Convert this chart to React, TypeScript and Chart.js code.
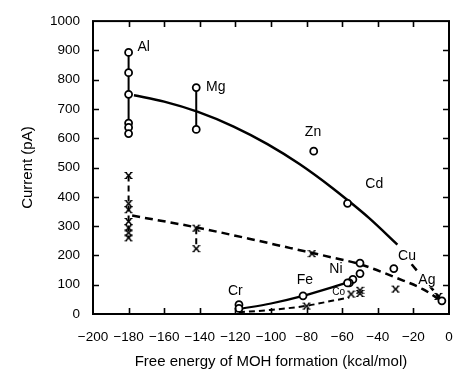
import React, { useEffect, useRef } from "react";
import { Chart, registerables } from "chart.js";

Chart.register(...registerables);

// Axis ticks
const xTickLabels = ["\u2212200", "\u2212180", "\u2212160", "\u2212140", "\u2212120", "\u2212100", "\u221280", "\u221260", "\u221240", "\u221220", "0"];
const xTickValues = [-200, -180, -160, -140, -120, -100, -80, -60, -40, -20, 0];
const yTickLabels = ["0", "100", "200", "300", "400", "500", "600", "700", "800", "900", "1000"];
const yTickValues = [0, 100, 200, 300, 400, 500, 600, 700, 800, 900, 1000];

// Al column (x = -180)
const alEnergy = -180;
const alCircleCurrent = [893, 824, 750, 652, 637, 616];
const alCrossCurrent = [473, 377, 356, 316, 294, 277, 260];

// Mg column (x = -142)
const mgEnergy = -142;
const mgCircleCurrent = [773, 630];
const mgCrossCurrent = [293, 223];

// Other circles (Zn, Cd, Cu, Ag, Ni/Co cluster, Fe, Cr)
const circleEnergy = [-76, -57, -31, -4, -50, -50, -54, -56, -57, -82, -118, -118];
const circleCurrent = [556, 378, 155, 45, 174, 138, 118, 106, 106, 62, 32, 19];

// Other crosses (Zn, Fe, Co cluster, Cu, Ag)
const crossEnergy = [-77, -80, -55, -50, -50, -30, -6];
const crossCurrent = [206, 27, 68, 81, 70, 85, 60];

// Fitted curves
const upperCurveX = [-177, -160, -141, -121, -102, -84, -65, -57, -45, -29];
const upperCurveY = [747, 725, 690, 640, 580, 512, 428, 389, 328, 237];
const upperExtX = [-21, -4];
const upperExtY = [170, 46];
const middleCurveX = [-178, -143, -113, -89, -65, -50, -29, -15, -4];
const middleCurveY = [336, 297, 258, 225, 192, 170, 122, 86, 44];
const lowerSolidX = [-118, -100, -82, -57];
const lowerSolidY = [17, 36, 62, 107];
const lowerDashX = [-118, -100, -80, -65, -56];
const lowerDashY = [6, 14, 28, 46, 56];

// Element labels
const elementNames = ["Al", "Mg", "Zn", "Cd", "Cu", "Ag", "Ni", "Fe", "Cr", "Co"];
const elementLabelX = [-175, -136.5, -76.4, -47, -23.6, -12.4, -63.5, -81, -120, -62];
const elementLabelY = [912, 776, 620, 444, 197, 115, 153, 115, 78, 75];

const FONT = "'Liberation Sans', Arial, Helvetica, sans-serif";

const pts = (xs: number[], ys: number[]) => xs.map((x, i) => ({ x, y: ys[i] }));
const col = (x: number, ys: number[]) => ys.map((y) => ({ x, y }));

function makeCrossGlyph(): HTMLCanvasElement {
  const c = document.createElement("canvas");
  c.width = 9;
  c.height = 9;
  const g = c.getContext("2d")!;
  g.strokeStyle = "#000";
  g.lineWidth = 1.6;
  g.beginPath();
  g.moveTo(2, 2);
  g.lineTo(7, 7);
  g.moveTo(7, 2);
  g.lineTo(2, 7);
  g.stroke();
  g.lineWidth = 1.2;
  g.beginPath();
  g.moveTo(0.5, 1.5);
  g.lineTo(3, 1.5);
  g.moveTo(6, 1.5);
  g.lineTo(8.5, 1.5);
  g.moveTo(0.5, 7.5);
  g.lineTo(3, 7.5);
  g.moveTo(6, 7.5);
  g.lineTo(8.5, 7.5);
  g.stroke();
  return c;
}

const framePlugin = {
  id: "frame",
  afterDraw(chart: any) {
    const { ctx, chartArea } = chart;
    const { left, right, top, bottom } = chartArea;
    const xs = chart.scales.x;
    const ys = chart.scales.y;
    ctx.save();
    ctx.strokeStyle = "#000";
    ctx.lineWidth = 2;
    ctx.strokeRect(left, top, right - left, bottom - top);
    ctx.lineWidth = 1.6;
    const tl = 6;
    ctx.beginPath();
    xTickValues.slice(1, -1).forEach((v) => {
      const p = Math.round(xs.getPixelForValue(v)) + 0.5;
      ctx.moveTo(p, bottom);
      ctx.lineTo(p, bottom - tl);
      ctx.moveTo(p, top);
      ctx.lineTo(p, top + tl);
    });
    yTickValues.slice(1, -1).forEach((v) => {
      const p = Math.round(ys.getPixelForValue(v)) + 0.5;
      ctx.moveTo(left, p);
      ctx.lineTo(left + tl, p);
      ctx.moveTo(right, p);
      ctx.lineTo(right - tl, p);
    });
    ctx.stroke();
    ctx.restore();
  },
};

const labelPlugin = {
  id: "elementLabels",
  afterDatasetsDraw(chart: any) {
    const { ctx } = chart;
    const xs = chart.scales.x;
    const ys = chart.scales.y;
    ctx.save();
    ctx.textBaseline = "middle";
    elementNames.forEach((name, i) => {
      const small = name === "Co";
      ctx.font = `${small ? 10 : 14}px ${FONT}`;
      ctx.textAlign = i <= 1 || name === "Cd" ? "left" : "center";
      const px = xs.getPixelForValue(elementLabelX[i]);
      const py = ys.getPixelForValue(elementLabelY[i]);
      if (name === "Ag" || name === "Cu") {
        const w = ctx.measureText(name).width;
        ctx.fillStyle = "#fff";
        ctx.fillRect(px - w / 2 - 1, py - 7, w + 2, 14);
      }
      ctx.fillStyle = "#000";
      ctx.fillText(name, px, py);
    });
    ctx.restore();
  },
};

export default function App() {
  const ref = useRef<HTMLCanvasElement | null>(null);

  useEffect(() => {
    if (!ref.current) return;
    const glyph = makeCrossGlyph();
    const circleStyle = {
      pointStyle: "circle",
      pointRadius: 3.5,
      pointBackgroundColor: "#fff",
      pointBorderColor: "#000",
      pointBorderWidth: 1.8,
    };
    const crossStyle = {
      pointStyle: glyph,
      pointRadius: 4,
      pointBorderColor: "#000",
    };
    const curveStyle = {
      showLine: true,
      pointRadius: 0,
      borderColor: "#000",
      borderWidth: 2.5,
      cubicInterpolationMode: "monotone",
    };
    const chart = new Chart(ref.current, {
      type: "scatter",
      data: {
        datasets: [
          { data: col(alEnergy, alCircleCurrent), showLine: true, borderColor: "#000", borderWidth: 2, ...circleStyle },
          { data: col(mgEnergy, mgCircleCurrent), showLine: true, borderColor: "#000", borderWidth: 2, ...circleStyle },
          { data: pts(circleEnergy, circleCurrent), showLine: false, ...circleStyle },
          { data: col(alEnergy, alCrossCurrent), showLine: true, borderColor: "#000", borderWidth: 2, borderDash: [6, 4], ...crossStyle },
          { data: col(mgEnergy, mgCrossCurrent), showLine: true, borderColor: "#000", borderWidth: 2, borderDash: [6, 4], ...crossStyle },
          { data: pts(crossEnergy, crossCurrent), showLine: false, ...crossStyle },
          { data: pts(upperCurveX, upperCurveY), ...curveStyle },
          { data: pts(upperExtX, upperExtY), ...curveStyle, borderDash: [8, 5] },
          { data: pts(middleCurveX, middleCurveY), ...curveStyle, borderDash: [8, 5] },
          { data: pts(lowerSolidX, lowerSolidY), ...curveStyle, borderWidth: 2.2 },
          { data: pts(lowerDashX, lowerDashY), ...curveStyle, borderWidth: 2, borderDash: [6, 4] },
        ] as any,
      },
      options: {
        responsive: false,
        animation: false,
        layout: { padding: { top: 19, right: 22, left: 0, bottom: 0 } },
        plugins: { legend: { display: false }, tooltip: { enabled: false } },
        scales: {
          x: {
            type: "linear",
            min: -200,
            max: 0,
            grid: { display: false, drawTicks: false },
            border: { display: false },
            ticks: {
              stepSize: 20,
              autoSkip: false,
              maxRotation: 0,
              color: "#000",
              padding: 15,
              font: { family: FONT, size: 13.5 },
              callback: (_v: any, i: number) => xTickLabels[i],
            },
            title: {
              display: true,
              text: "Free energy of MOH formation (kcal/mol)",
              color: "#000",
              font: { family: FONT, size: 15 },
              padding: { top: 0, bottom: 15 },
            },
            afterFit: (s: any) => {
              s.height = 72;
            },
          },
          y: {
            type: "linear",
            min: 0,
            max: 1000,
            grid: { display: false, drawTicks: false },
            border: { display: false },
            ticks: {
              stepSize: 100,
              autoSkip: false,
              color: "#000",
              padding: 13,
              font: { family: FONT, size: 13.5 },
              callback: (_v: any, i: number) => yTickLabels[i],
            },
            title: {
              display: true,
              text: "Current (pA)",
              color: "#000",
              font: { family: FONT, size: 15 },
              padding: { top: 19, bottom: 0 },
            },
            afterFit: (s: any) => {
              s.width = 93;
            },
          },
        },
      } as any,
      plugins: [framePlugin, labelPlugin],
    });
    return () => chart.destroy();
  }, []);

  return (
    <div style={{ position: "absolute", left: 0, top: 0, width: 471, height: 386, background: "#fff" }}>
      <canvas ref={ref} width={471} height={386} style={{ display: "block" }} />
    </div>
  );
}
